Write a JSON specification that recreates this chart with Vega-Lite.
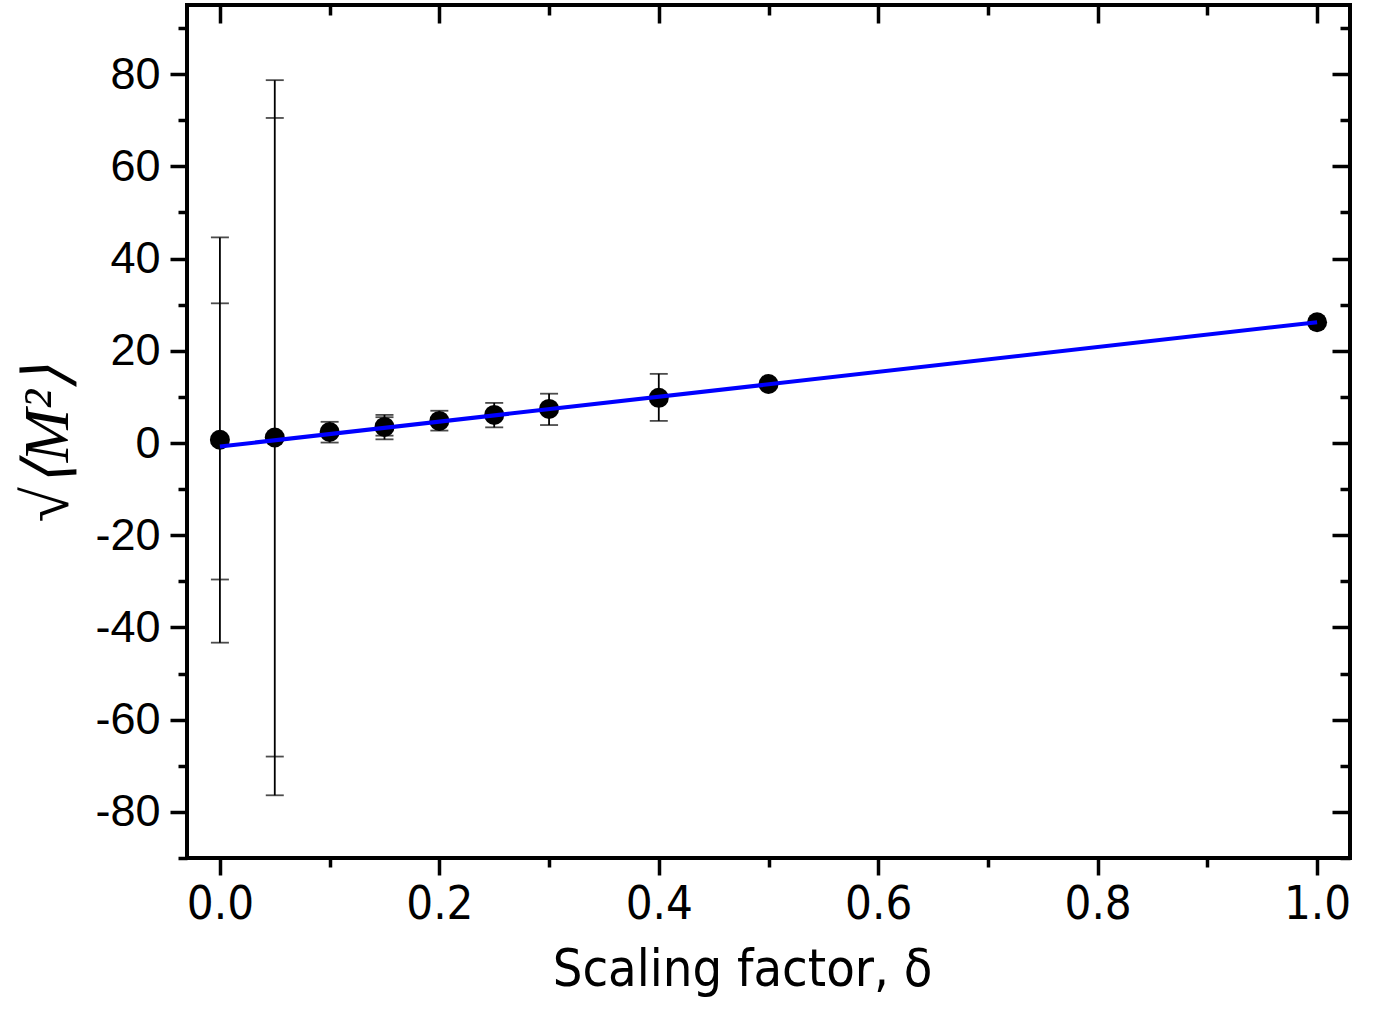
{
  "$schema": "https://vega.github.io/schema/vega-lite/v6.json",
  "width": 1163,
  "height": 853,
  "autosize": "none",
  "padding": {"left": 187, "top": 5, "right": 32, "bottom": 153},
  "background": "white",
  "config": {
    "view": {"stroke": "black", "strokeWidth": 4},
    "axis": {"domain": false, "grid": false, "tickColor": "black", "tickWidth": 3.5, "labelColor": "black", "titleColor": "black"}
  },
  "datasets": {
    "pts": [
      {"x": 0.0, "y": 0.7},
      {"x": 0.05, "y": 1.2},
      {"x": 0.1, "y": 2.4},
      {"x": 0.15, "y": 3.5},
      {"x": 0.2, "y": 4.8},
      {"x": 0.25, "y": 6.1},
      {"x": 0.3, "y": 7.4},
      {"x": 0.4, "y": 9.8},
      {"x": 0.5, "y": 12.8},
      {"x": 1.0, "y": 26.2}
    ],
    "outer": [
      {"x": 0.0, "lo": -43.3, "hi": 44.6},
      {"x": 0.05, "lo": -76.4, "hi": 78.7},
      {"x": 0.1, "lo": 0.1, "hi": 4.6},
      {"x": 0.15, "lo": 0.8, "hi": 6.1},
      {"x": 0.2, "lo": 2.7, "hi": 7.0},
      {"x": 0.25, "lo": 3.4, "hi": 8.7},
      {"x": 0.3, "lo": 3.9, "hi": 10.7},
      {"x": 0.4, "lo": 4.8, "hi": 15.0}
    ],
    "inner": [
      {"x": 0.0, "lo": -29.6, "hi": 30.3},
      {"x": 0.05, "lo": -68.0, "hi": 70.5},
      {"x": 0.15, "lo": 1.6, "hi": 5.6}
    ],
    "fit": [
      {"x": 0.0, "y": -0.75},
      {"x": 1.0, "y": 26.2}
    ]
  },
  "resolve": {"axis": {"x": "independent", "y": "independent"}},
  "layer": [
    {
      "data": {"name": "outer"},
      "mark": {"type": "rule", "color": "black", "strokeWidth": 1.8},
      "encoding": {
        "x": {"field": "x", "type": "quantitative", "scale": {"domain": [-0.03, 1.03], "nice": false, "zero": false},
          "axis": {"orient": "bottom", "values": [0, 0.2, 0.4, 0.6, 0.8, 1.0], "format": ".1f", "tickSize": 17,
            "labelFont": "DejaVu Sans Condensed", "labelFontSize": 47, "labelPadding": 6,
            "title": "Scaling factor, δ", "titleFont": "DejaVu Sans Condensed", "titleFontSize": 52, "titleFontWeight": "normal",
            "titleX": 555, "titleY": 127, "titleBaseline": "alphabetic", "titleAlign": "center", "titleAnchor": null}},
        "y": {"field": "lo", "type": "quantitative", "scale": {"domain": [-90, 95], "nice": false, "zero": false},
          "axis": {"orient": "left", "values": [-80, -60, -40, -20, 0, 20, 40, 60, 80], "tickSize": 17,
            "labelExpr": "datum.value < 0 ? '-' + abs(datum.value) : '' + datum.value",
            "labelFont": "Liberation Sans", "labelFontSize": 45, "labelPadding": 10,
            "title": "√⟨M²⟩", "titleFont": "Liberation Serif", "titleFontStyle": "italic", "titleFontWeight": "normal", "titleFontSize": 64,
            "titleAngle": -90, "titleX": -120, "titleY": 438, "titleAlign": "center", "titleBaseline": "alphabetic", "titleAnchor": null}},
        "y2": {"field": "hi"}
      }
    },
    {
      "data": {"name": "outer"},
      "mark": {"type": "tick", "orient": "horizontal", "color": "black", "size": 18, "thickness": 1.8},
      "encoding": {
        "x": {"field": "x", "type": "quantitative",
          "axis": {"orient": "bottom", "values": [0.1, 0.3, 0.5, 0.7, 0.9], "labels": false, "tickSize": 9, "title": null}},
        "y": {"field": "lo", "type": "quantitative",
          "axis": {"orient": "left", "values": [-90, -70, -50, -30, -10, 10, 30, 50, 70, 90], "labels": false, "tickSize": 9, "title": null}}
      }
    },
    {
      "data": {"name": "outer"},
      "mark": {"type": "tick", "orient": "horizontal", "color": "black", "size": 18, "thickness": 1.8},
      "encoding": {
        "x": {"field": "x", "type": "quantitative",
          "axis": {"orient": "top", "values": [0, 0.2, 0.4, 0.6, 0.8, 1.0], "labels": false, "tickSize": -18, "title": null}},
        "y": {"field": "hi", "type": "quantitative",
          "axis": {"orient": "right", "values": [-80, -60, -40, -20, 0, 20, 40, 60, 80], "labels": false, "tickSize": -18, "title": null}}
      }
    },
    {
      "data": {"name": "inner"},
      "mark": {"type": "tick", "orient": "horizontal", "color": "black", "size": 18, "thickness": 1.8},
      "encoding": {
        "x": {"field": "x", "type": "quantitative",
          "axis": {"orient": "top", "values": [0.1, 0.3, 0.5, 0.7, 0.9], "labels": false, "tickSize": -10, "title": null}},
        "y": {"field": "lo", "type": "quantitative",
          "axis": {"orient": "right", "values": [-90, -70, -50, -30, -10, 10, 30, 50, 70, 90], "labels": false, "tickSize": -10, "title": null}}
      }
    },
    {
      "data": {"name": "inner"},
      "mark": {"type": "tick", "orient": "horizontal", "color": "black", "size": 18, "thickness": 1.8},
      "encoding": {
        "x": {"field": "x", "type": "quantitative", "axis": null},
        "y": {"field": "hi", "type": "quantitative", "axis": null}
      }
    },
    {
      "data": {"name": "pts"},
      "mark": {"type": "point", "shape": "circle", "filled": true, "color": "black", "opacity": 1, "size": 400},
      "encoding": {
        "x": {"field": "x", "type": "quantitative", "axis": null},
        "y": {"field": "y", "type": "quantitative", "axis": null}
      }
    },
    {
      "data": {"name": "fit"},
      "mark": {"type": "line", "color": "#0000FF", "strokeWidth": 4},
      "encoding": {
        "x": {"field": "x", "type": "quantitative", "axis": null},
        "y": {"field": "y", "type": "quantitative", "axis": null}
      }
    }
  ]
}
